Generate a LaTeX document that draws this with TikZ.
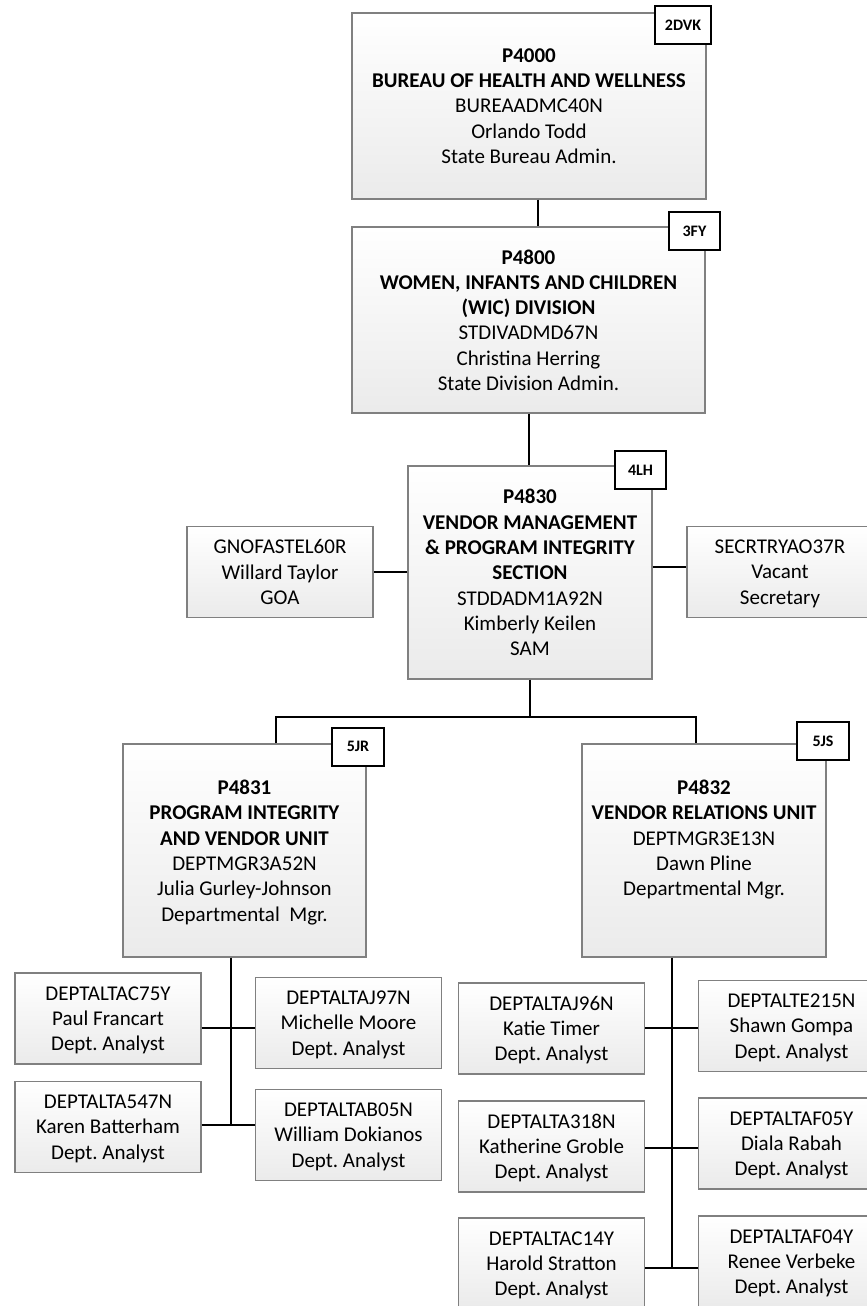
\documentclass[tikz,border=0pt]{standalone}
\usepackage{fontspec}
\setmainfont{Carlito}
\frenchspacing
\usetikzlibrary{positioning}

\begin{document}
\begin{tikzpicture}[x=1pt,y=-1pt,
  unit/.style={rectangle, draw=black!50, line width=1.2pt, top color=white, bottom color=black!8,
    minimum width=244pt, minimum height=213pt, inner sep=0pt, align=center, text depth=0pt,
    font=\fontsize{21}{25.3}\selectfont},
  staff/.style={unit, minimum width=186pt, minimum height=91pt},
  tag/.style={rectangle, draw=black, line width=2pt, fill=white, minimum width=51pt,
    minimum height=38pt, inner sep=0pt, font=\fontsize{16}{18}\selectfont\bfseries},
  link/.style={line width=2pt, draw=black}
]
\useasboundingbox (0,0) rectangle (867,1306);
% bureau, division, section
\node[unit,minimum width=354pt,minimum height=186pt] (p4000) at (529,106)
  {\textbf{P4000}\\\textbf{BUREAU OF HEALTH AND WELLNESS}\\BUREAADMC40N\\Orlando Todd\\State Bureau Admin.};
\node[unit,minimum width=353pt,minimum height=186pt] (p4800) at (528.5,320)
  {\textbf{P4800}\\\textbf{WOMEN, INFANTS AND CHILDREN}\\\textbf{(WIC) DIVISION}\\STDIVADMD67N\\Christina Herring\\State Division Admin.};
\node[unit] (p4830) at (530,572.5)
  {\textbf{P4830}\\\textbf{VENDOR MANAGEMENT}\\\textbf{\& PROGRAM INTEGRITY}\\\textbf{SECTION}\\STDDADM1A92N\\Kimberly Keilen\\SAM};
\node[staff] (gnofastel) at (280,572) {GNOFASTEL60R\\Willard Taylor\\GOA};
\node[staff] (secrtry) at (780,572) {SECRTRYAO37R\\Vacant\\Secretary};
% units
\node[unit,minimum width=243pt] (p4831) at (244.5,850.5)
  {\textbf{P4831}\\\textbf{PROGRAM INTEGRITY}\\\textbf{AND VENDOR UNIT}\\DEPTMGR3A52N\\Julia Gurley-Johnson\\Departmental\ \ Mgr.};
\node[unit] (p4832) at (704,850.5)
  {\textbf{P4832}\\\textbf{VENDOR RELATIONS UNIT}\\DEPTMGR3E13N\\Dawn Pline\\Departmental Mgr.\\\mbox{}};
% analysts
\node[staff] (ac75y) at (108,1018.5) {DEPTALTAC75Y\\Paul Francart\\Dept. Analyst};
\node[staff] (aj97n) at (348.5,1023) {DEPTALTAJ97N\\Michelle Moore\\Dept. Analyst};
\node[staff] (a547n) at (108,1127) {DEPTALTA547N\\Karen Batterham\\Dept. Analyst};
\node[staff] (ab05n) at (348.5,1135) {DEPTALTAB05N\\William Dokianos\\Dept. Analyst};
\node[staff] (aj96n) at (551.5,1028.5) {DEPTALTAJ96N\\Katie Timer\\Dept. Analyst};
\node[staff] (e215n) at (791.5,1026) {DEPTALTE215N\\Shawn Gompa\\Dept. Analyst};
\node[staff] (a318n) at (551.5,1146.5) {DEPTALTA318N\\Katherine Groble\\Dept. Analyst};
\node[staff] (af05y) at (791.5,1143.5) {DEPTALTAF05Y\\Diala Rabah\\Dept. Analyst};
\node[staff] (ac14y) at (551.5,1263.5) {DEPTALTAC14Y\\Harold Stratton\\Dept. Analyst};
\node[staff] (af04y) at (791.5,1261.5) {DEPTALTAF04Y\\Renee Verbeke\\Dept. Analyst};
% level tags
\node[tag,minimum width=56pt] (t2dvk) at (683,25) {2DVK};
\node[tag] (t3fy) at (694.5,231) {3FY};
\node[tag] (t4lh) at (640.5,470) {4LH};
\node[tag,minimum width=52pt] (t5jr) at (358,746.5) {5JR};
\node[tag,minimum width=52pt] (t5js) at (823,741) {5JS};
% connectors
\coordinate (rowL1) at (231,1028);
\coordinate (rowL2) at (231,1125);
\coordinate (rowR1) at (672,1028);
\coordinate (rowR2) at (672,1148);
\coordinate (rowR3) at (672,1268);
\draw[link] ([xshift=9pt]p4000.south) -- ([xshift=9pt]p4000.south |- p4800.north);
\draw[link] (p4800.south) -- (p4800.south |- p4830.north);
\draw[link] (p4830.west |- gnofastel.east) -- (gnofastel.east);
\draw[link] ([yshift=6pt]p4830.east) -- ([yshift=6pt]p4830.east -| secrtry.west);
\draw[link] (p4830.south) -- ++(0,37) coordinate (busmid);
\draw[link] ([xshift=31.5pt]p4831.north) |- (busmid) -| ([xshift=-8pt]p4832.north);
\draw[link] (p4831.south -| rowL1) -- (rowL2);
\draw[link] (ac75y.east |- rowL1) -- (aj97n.west |- rowL1);
\draw[link] (a547n.east |- rowL2) -- (ab05n.west |- rowL2);
\draw[link] (p4832.south -| rowR1) -- (rowR3);
\draw[link] (aj96n.east |- rowR1) -- (e215n.west |- rowR1);
\draw[link] (a318n.east |- rowR2) -- (af05y.west |- rowR2);
\draw[link] (ac14y.east |- rowR3) -- (af04y.west |- rowR3);
\end{tikzpicture}
\end{document}
